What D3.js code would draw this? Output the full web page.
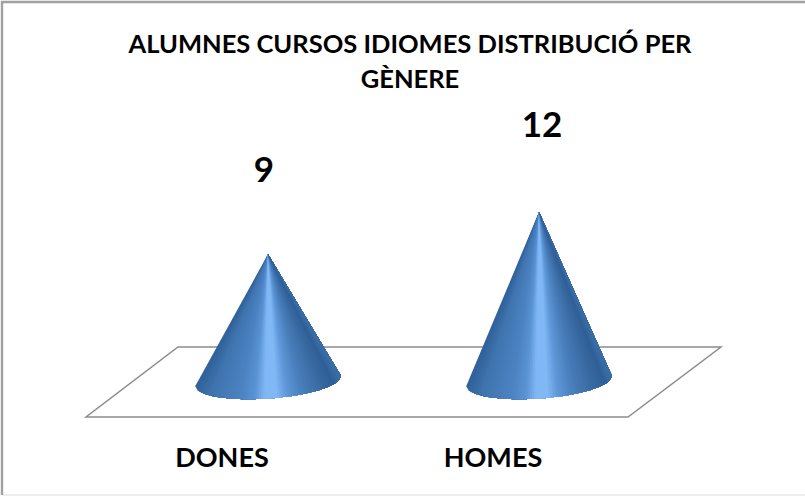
<!DOCTYPE html>
<html><head><meta charset="utf-8"><script src="https://cdn.jsdelivr.net/npm/d3@7/dist/d3.min.js"></script>
<style>html,body{margin:0;background:#fff}svg{display:block}text{font-family:Lato,"Liberation Sans",sans-serif;font-weight:700;fill:#000}</style></head><body>
<script>
const categories=["DONES","HOMES"];
const values=[9,12];
const titleLines=["ALUMNES CURSOS IDIOMES DISTRIBUCIÓ PER","GÈNERE"];
const W=805,H=496;
const svg=d3.select("body").append("svg").attr("width",W).attr("height",H);
const x=d3.scalePoint().domain(categories).range([268,539]);
const y=d3.scaleLinear().domain([0,12]).range([381,212]);
svg.append("path").attr("d","M2,495H805").attr("fill","none").attr("stroke","#dcdcdc").attr("stroke-width",1);
svg.append("path").attr("d","M2,495V2H805").attr("fill","none").attr("stroke","#a0a0a0").attr("stroke-width",2.4);
svg.append("path").attr("d","M178,347H721L628,417H86Z").attr("fill","#fff").attr("stroke","#8c8c8c").attr("stroke-width",1.5);
const rx=73,ry=17.5,phi=-4.1*Math.PI/180;
const shade=d3.scaleLinear().domain([0,.1,.3,.4,.47,.55,.62,.72,.85,.95,1])
  .range(["#30619a","#3f74ae","#4c83c2","#5a93d4","#80b8f6","#80b8f6","#5f98d8","#4a80be","#3c6ca4","#2f5f96","#3c6fa9"]);
const basePt=(cx,th)=>{const a=rx*Math.cos(th),b=ry*Math.sin(th),cy=y(0);
  return [cx+a*Math.cos(phi)-b*Math.sin(phi),cy+a*Math.sin(phi)+b*Math.cos(phi)];};
const N=70;
categories.forEach((d,i)=>{
  const cx=x(d),top=[cx,y(values[i])],g=svg.append("g");
  const us=d3.range(N+1).map(k=>k/N);
  const outline=us.map(u=>basePt(cx,Math.PI-Math.acos(1-2*u)));
  us.slice(0,N).forEach((u,k)=>{
    // each wedge runs to the far edge of the cone, so the next wedge paints over it without a seam
    const pts=[top,...outline.slice(k)];
    g.append("path").attr("d",d3.line()(pts)+"Z").attr("fill",shade(u+.5/N));
  });
});
const labelDy=[-72,-75],labelDx=[-4,3];
svg.selectAll("text.v").data(values).join("text").attr("class","v")
  .attr("x",(d,i)=>x(categories[i])+labelDx[i]).attr("y",(d,i)=>y(d)+labelDy[i])
  .attr("text-anchor","middle").attr("font-size",35).text(d=>d);
svg.selectAll("text.c").data(categories).join("text").attr("class","c")
  .attr("x",d=>x(d)-46).attr("y",467).attr("text-anchor","middle").attr("font-size",27).text(d=>d);
svg.selectAll("text.t").data(titleLines).join("text").attr("class","t")
  .attr("x",410).attr("y",(d,i)=>53+i*35).attr("text-anchor","middle").attr("font-size",25.5).text(d=>d);
</script></body></html>
